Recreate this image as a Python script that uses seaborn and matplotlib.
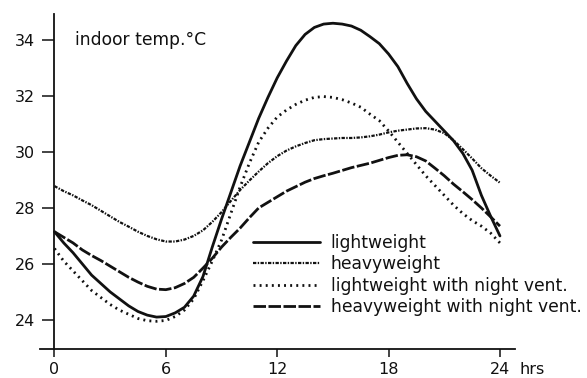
import matplotlib
matplotlib.use("Agg")
import matplotlib.pyplot as plt
import seaborn as sns
import pandas as pd
import numpy as np

# time of day in hours, half-hour steps
hours = np.arange(0, 24.5, 0.5)

lightweight = [27.15, 26.75, 26.4, 26.0, 25.6, 25.3, 25.0, 24.75, 24.5, 24.3,
               24.17, 24.1, 24.12, 24.25, 24.45, 24.85, 25.55, 26.6, 27.6, 28.55,
               29.5, 30.35, 31.2, 31.95, 32.65, 33.25, 33.8, 34.2, 34.45, 34.57,
               34.6, 34.57, 34.5, 34.35, 34.12, 33.87, 33.5, 33.05, 32.45, 31.9,
               31.45, 31.1, 30.75, 30.4, 29.95, 29.35, 28.45, 27.7, 27.0]
heavyweight = [28.78, 28.6, 28.45, 28.27, 28.1, 27.9, 27.7, 27.5, 27.33, 27.15,
               27.0, 26.88, 26.8, 26.8, 26.87, 27.0, 27.2, 27.5, 27.85, 28.25,
               28.64, 28.98, 29.3, 29.6, 29.85, 30.05, 30.2, 30.32, 30.42, 30.46,
               30.48, 30.5, 30.5, 30.52, 30.56, 30.62, 30.7, 30.76, 30.8, 30.84,
               30.85, 30.8, 30.67, 30.42, 30.1, 29.77, 29.42, 29.15, 28.9]
light_vent = [26.55, 26.1, 25.75, 25.4, 25.05, 24.8, 24.55, 24.35, 24.2, 24.05,
              23.97, 23.95, 23.98, 24.12, 24.35, 24.75, 25.4, 26.1, 26.85, 27.8,
              28.75, 29.6, 30.35, 30.85, 31.25, 31.5, 31.7, 31.85, 31.95, 31.98,
              31.95, 31.87, 31.75, 31.6, 31.35, 31.12, 30.75, 30.35, 29.95, 29.55,
              29.15, 28.8, 28.45, 28.1, 27.8, 27.55, 27.35, 27.1, 26.75]
heavy_vent = [27.15, 26.95, 26.75, 26.5, 26.3, 26.12, 25.92, 25.72, 25.52, 25.35,
              25.2, 25.1, 25.08, 25.15, 25.3, 25.52, 25.85, 26.2, 26.6, 26.95,
              27.28, 27.65, 28.0, 28.2, 28.4, 28.6, 28.76, 28.92, 29.05, 29.15,
              29.24, 29.34, 29.44, 29.52, 29.6, 29.7, 29.8, 29.88, 29.9, 29.83,
              29.68, 29.42, 29.15, 28.85, 28.58, 28.3, 28.0, 27.68, 27.35]

labels = ["lightweight", "heavyweight", "lightweight with night vent.", "heavyweight with night vent."]
x_ticks = [0, 6, 12, 18, 24]
x_ticklabels = ["0", "6", "12", "18", "24"]
y_ticks = [24, 26, 28, 30, 32, 34]
annotation = "indoor temp.°C"
x_unit = "hrs"

sns.set_theme(style="white")
plt.rcParams["font.family"] = ["DejaVu Sans"]
plt.rcParams["lines.scale_dashes"] = False

fig = plt.figure(figsize=(5.87, 3.78), dpi=100)
ax = fig.add_axes([40 / 587, 29 / 378, 475 / 587, 335 / 378])

ink = "#111111"
styles = [
    dict(linestyle="-", linewidth=2.0),
    dict(linestyle=(0, (2.4, 1.0, 1.0, 1.0)), linewidth=1.6),
    dict(linestyle=(0, (1.4, 3.0)), linewidth=2.0),
    dict(linestyle=(0, (9.0, 1.8)), linewidth=2.0),
]
series = [lightweight, heavyweight, light_vent, heavy_vent]
for vals, lab, st in zip(series, labels, styles):
    df = pd.DataFrame({"hour": hours, "temp": vals})
    sns.lineplot(data=df, x="hour", y="temp", ax=ax, color=ink, label=lab,
                 errorbar=None, **st)

ax.set_xlim(-0.78, 24.81)
ax.set_ylim(22.96, 34.93)
ax.spines["left"].set_position(("data", 0))
ax.spines["top"].set_visible(False)
ax.spines["right"].set_visible(False)
for s in ("left", "bottom"):
    ax.spines[s].set_color(ink)
    ax.spines[s].set_linewidth(1.3)

ax.set_xticks(x_ticks)
ax.set_xticklabels(x_ticklabels)
ax.set_yticks(y_ticks)
ax.set_yticklabels([str(v) for v in y_ticks])
ax.tick_params(axis="y", direction="out", length=8.6, width=1.1, pad=5.5,
               labelsize=11.5, colors=ink, left=True)
ax.tick_params(axis="x", direction="out", length=5.8, width=1.1, pad=3.8,
               labelsize=11.5, colors=ink, bottom=True)
ax.set_xlabel("")
ax.set_ylabel("")

ax.annotate(x_unit, xy=(24, 0), xycoords=("data", "axes fraction"),
            xytext=(14.0, -9.6), textcoords="offset points",
            ha="left", va="top", fontsize=11.5, color=ink)

ax.text(1.1, 34.0, annotation, ha="left", va="center", fontsize=12.3, color=ink)

leg = ax.legend(loc="upper left", bbox_to_anchor=(253 / 587, 1 - 234 / 378),
                bbox_transform=fig.transFigure, frameon=False, fontsize=12.3,
                handlelength=3.9, handletextpad=0.65, labelspacing=0.2,
                borderpad=0, borderaxespad=0)
for t in leg.get_texts():
    t.set_color(ink)

fig.savefig("out.png", dpi=100)
